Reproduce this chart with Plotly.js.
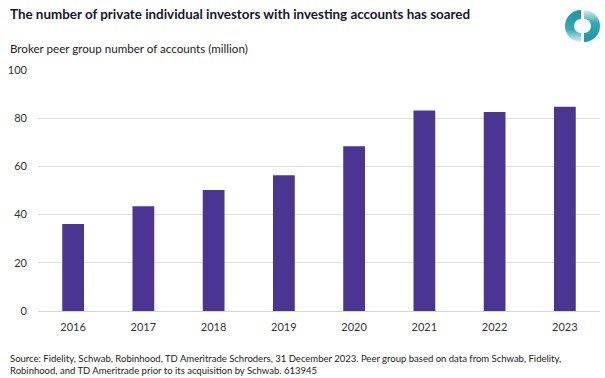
<!DOCTYPE html>
<html>
<head>
<meta charset="utf-8">
<script src="https://cdn.plot.ly/plotly-3.0.1.min.js"></script>
<style>html,body{margin:0;padding:0;background:#fff;}#chart{width:605px;height:378px;}</style>
</head>
<body>
<div id="chart"></div>
<script>
const years = ["2016", "2017", "2018", "2019", "2020", "2021", "2022", "2023"];
const accounts = [36.1, 43.5, 50.2, 56.3, 68.4, 83.2, 82.6, 84.7];
const yTicks = [0, 20, 40, 60, 80, 100];

const titleText = "The number of private individual investors with investing accounts has soared";
const subtitleText = "Broker peer group number of accounts (million)";
const sourceText = "Source: Fidelity, Schwab, Robinhood, TD Ameritrade Schroders, 31 December 2023. Peer group based on data from Schwab, Fidelity,<br>Robinhood, and TD Ameritrade prior to its acquisition by Schwab. 613945";

const W = 605, H = 378;
const m = {l: 38, r: 5, t: 70, b: 67};
const pw = W - m.l - m.r, ph = H - m.t - m.b;
const px2x = px => (px - m.l) / pw;
const py2y = py => 1 - (py - m.t) / ph;

const logoSvg = '<svg xmlns="http://www.w3.org/2000/svg" width="40" height="40" viewBox="-20 -20 40 40">' +
  '<defs><linearGradient id="a" x1="0" y1="0" x2="0" y2="1"><stop offset="0" stop-color="#1597a5"/><stop offset="0.6" stop-color="#34a9b5"/><stop offset="1" stop-color="#d8eff1"/></linearGradient>' +
  '<linearGradient id="b" x1="0" y1="1" x2="0" y2="0"><stop offset="0" stop-color="#1597a5"/><stop offset="0.6" stop-color="#34a9b5"/><stop offset="1" stop-color="#d8eff1"/></linearGradient></defs>' +
  '<path d="M -1.5 -16 A 16 16 0 0 0 -1.5 16 L -1.5 7 A 7 7 0 0 1 -1.5 -7 Z" fill="url(#a)"/>' +
  '<path d="M 1.5 16 A 16 16 0 0 0 1.5 -16 L 1.5 -7 A 7 7 0 0 1 1.5 7 Z" fill="url(#b)"/>' +
  '</svg>';
const logoSrc = 'data:image/svg+xml;base64,' + btoa(logoSvg);

const trace = {
  type: "bar",
  x: years,
  y: accounts,
  marker: {color: "#4b3592", line: {width: 0}},
  hoverinfo: "x+y"
};

const layout = {
  width: W, height: H,
  margin: m,
  paper_bgcolor: "#ffffff",
  plot_bgcolor: "#ffffff",
  font: {family: "Lato, 'Open Sans', sans-serif", color: "#333333", size: 11},
  showlegend: false,
  bargap: 0.69,
  xaxis: {
    type: "category",
    showgrid: false,
    zeroline: false,
    showline: false,
    ticks: "",
    tickfont: {size: 11, color: "#333333"},
    ticklabelstandoff: 8
  },
  yaxis: {
    range: [0, 100],
    tickvals: yTicks,
    showgrid: true,
    gridcolor: "#dddddd",
    gridwidth: 1,
    zeroline: true,
    zerolinecolor: "#d6d6d6",
    zerolinewidth: 1,
    showline: false,
    ticks: "",
    tickfont: {size: 11, color: "#333333"},
    ticklabelstandoff: 10
  },
  annotations: [
    {text: "<b>" + titleText + "</b>", xref: "paper", yref: "paper", x: px2x(8), y: py2y(14),
     xanchor: "left", yanchor: "middle", showarrow: false, align: "left",
     font: {size: 13.4, color: "#16162e", family: "Lato, sans-serif"}},
    {text: subtitleText, xref: "paper", yref: "paper", x: px2x(8), y: py2y(48),
     xanchor: "left", yanchor: "middle", showarrow: false, align: "left",
     font: {size: 11.6, color: "#222222"}},
    {text: sourceText, xref: "paper", yref: "paper", x: px2x(8), y: py2y(364),
     xanchor: "left", yanchor: "middle", showarrow: false, align: "left",
     font: {size: 9.5, color: "#222222"}}
  ],
  images: [
    {source: logoSrc, xref: "paper", yref: "paper", x: px2x(582.5), y: py2y(26),
     sizex: 40 / pw, sizey: 40 / ph, xanchor: "center", yanchor: "middle", layer: "above"}
  ]
};

Plotly.newPlot("chart", [trace], layout, {displayModeBar: false, staticPlot: true});
</script>
</body>
</html>
